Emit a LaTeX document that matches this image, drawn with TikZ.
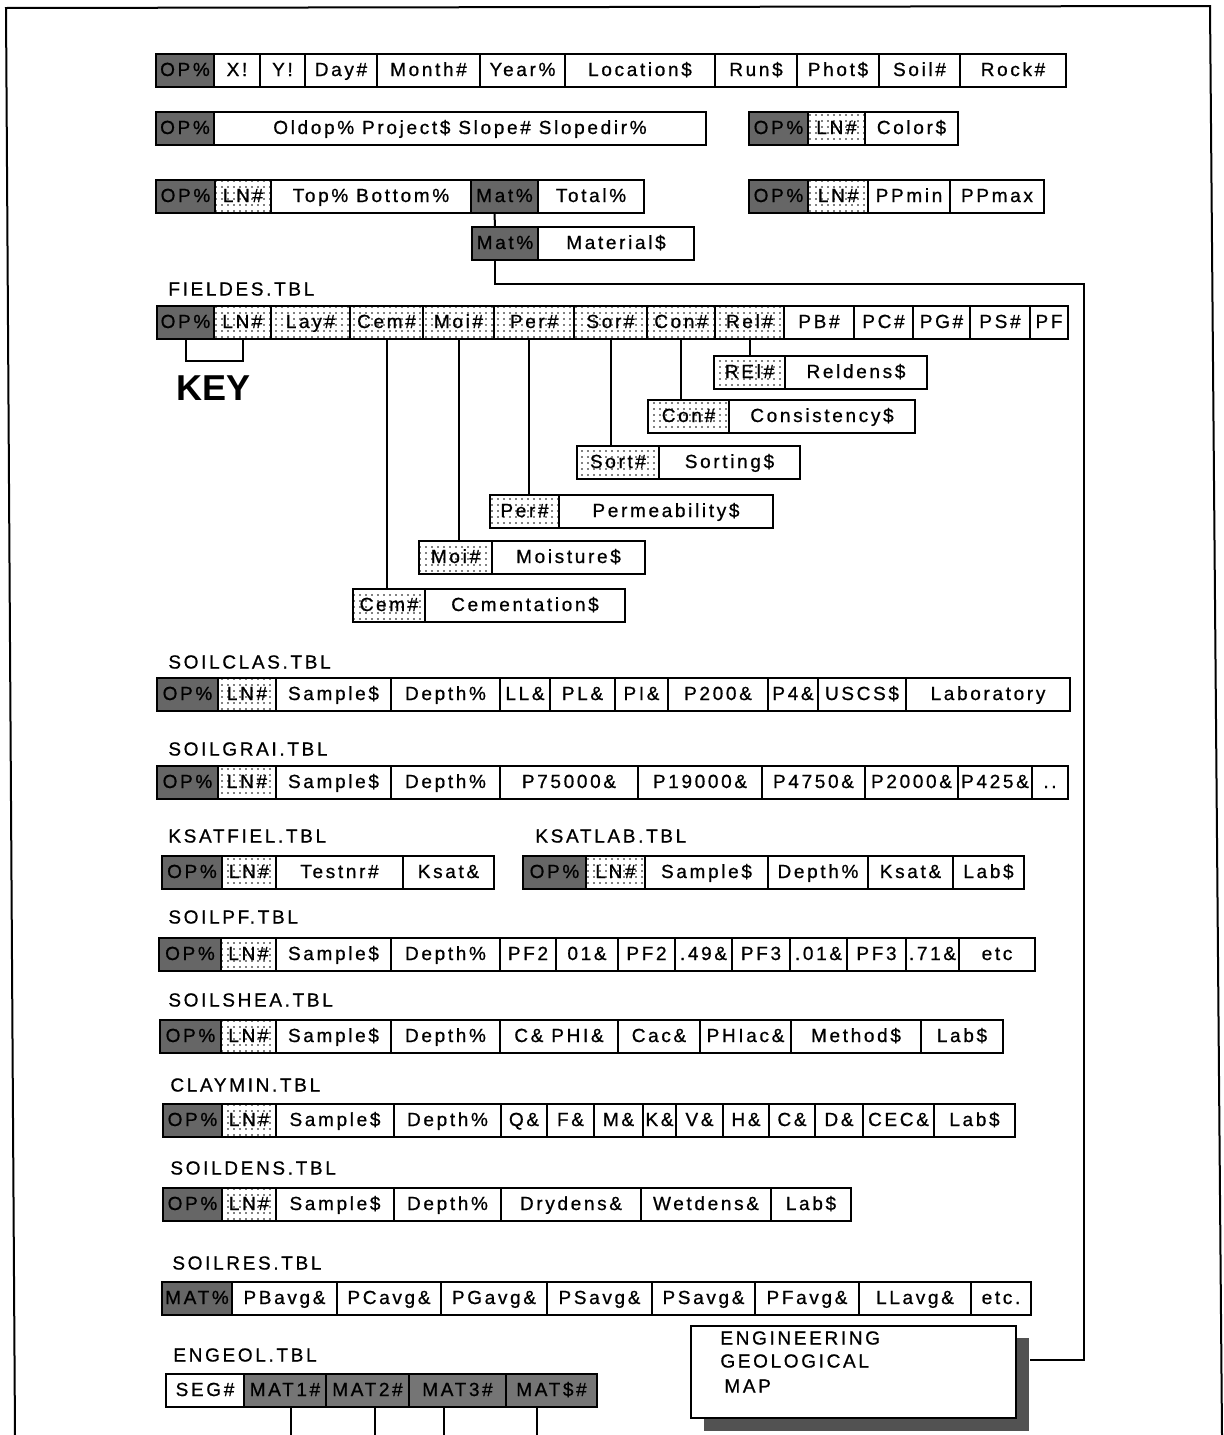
\documentclass[tikz,border=0pt]{standalone}
\usepackage{fontspec}
\setmainfont{Liberation Sans}
\newfontfamily\tf[LetterSpace=14,FakeBold=0.8]{Liberation Sans}
\newfontfamily\kf{Liberation Sans}
\usetikzlibrary{patterns.meta,calc}

\tikzset{
  cell/.style={draw, line width=1pt, inner sep=0pt, outer sep=0pt,
    minimum height=16.5pt, anchor=north west, text height=7pt, text depth=1.5pt,
    font=\tf\fontsize{9.5}{10}\selectfont},
  dk/.style={fill=black!60, text=black},
  dk2/.style={fill=black!54, text=black},
  dt/.style={pattern={Dots[radius=0.45pt,distance=3pt]}, pattern color=black},
  wh/.style={fill=white},
  tlabel/.style={anchor=west, inner sep=0pt, font=\tf\fontsize{9.5}{10}\selectfont},
  wire/.style={line width=1pt},
}

\newcommand\trow[3]{%
  \foreach \xa/\xb/\lb/\st [count=\ci] in {#3}{%
    \pgfmathsetmacro\cw{(\xb-\xa)/2}%
    \node[cell,\st,minimum width=\cw pt] (#1-\ci) at (\xa,#2) {\lb};
  }}

\begin{document}
\begin{tikzpicture}[x=0.5pt,y=-0.5pt]
\useasboundingbox (0,0) rectangle (1224,1435);

% frame
\coordinate (fbl) at (15,1435);
\coordinate (ftl) at (6,8);
\coordinate (ftr) at (1210,6);
\coordinate (fbr) at (1222,1435);
\draw[wire] (fbl) -- (ftl) -- (ftr) -- (fbr);

% top tables
\trow{ra}{54}{156/214/OP\%/dk, 214/260/X!/wh, 260/305/Y!/wh, 305/377/Day\#/wh, 377/480/Month\#/wh, 480/565/Year\%/wh, 565/715/Location\$/wh, 715/797/Run\$/wh, 797/879/Phot\$/wh, 879/960/Soil\#/wh, 960/1066/Rock\#/wh}
\trow{rb}{112}{156/214/OP\%/dk, 214/706/Oldop\% Project\$ Slope\# Slopedir\%/wh}
\trow{rc}{112}{749/808/OP\%/dk, 808/865/LN\#/dt, 865/958/Color\$/wh}
\trow{rd}{180}{156/215/OP\%/dk, 215/271/LN\#/dt, 271/471/Top\% Bottom\%/wh, 471/538/Mat\%/dk, 538/644/Total\%/wh}
\trow{re}{180}{749/808/OP\%/dk, 808/868/LN\#/dt, 868/950/PPmin/wh, 950/1044/PPmax/wh}
\trow{mt}{227}{472/538/Mat\%/dk, 538/694/Material\$/wh}

% FIELDES
\node[tlabel] (lfd) at (168,289) {FIELDES.TBL};
\trow{fd}{306}{157/214/OP\%/dk, 214/271/LN\#/dt, 271/350/Lay\#/dt, 350/423/Cem\#/dt, 423/494/Moi\#/dt, 494/574/Per\#/dt, 574/647/Sor\#/dt, 647/715/Con\#/dt, 715/784/Rel\#/dt, 784/854/PB\#/wh, 854/913/PC\#/wh, 913/970/PG\#/wh, 970/1030/PS\#/wh, 1030/1068/PF/wh}

\trow{rl}{356}{714/785/REl\#/dt, 785/927/Reldens\$/wh}
\trow{cn}{400}{648/729/Con\#/dt, 729/915/Consistency\$/wh}
\trow{so}{446}{577/659/Sort\#/dt, 659/800/Sorting\$/wh}
\trow{pe}{495}{490/559/Per\#/dt, 559/773/Permeability\$/wh}
\trow{mo}{541}{419/492/Moi\#/dt, 492/645/Moisture\$/wh}
\trow{ce}{589}{353/425/Cem\#/dt, 425/625/Cementation\$/wh}

% KEY
\draw[wire] (fd-1.south) -- ++(0,22) -| (fd-2.south);
\node[inner sep=0pt, font=\kf\bfseries\fontsize{18}{18}\selectfont] (key) at (214,388) {KEY};

% FIELDES connectors
\draw[wire] (fd-4.south) -- (fd-4.south |- ce-1.north);
\draw[wire] (fd-5.south) -- (fd-5.south |- mo-1.north);
\draw[wire] ([xshift=-2.5pt]fd-6.south) -- ([xshift=-2.5pt]fd-6.south |- pe-1.north);
\draw[wire] (fd-7.south) -- (fd-7.south |- so-1.north);
\draw[wire] (fd-8.south) -- (fd-8.south |- cn-1.north);
\draw[wire] (fd-9.south) -- (fd-9.south |- rl-1.north);

% Mat connectors
\coordinate (turn) at (1084,284);
\draw[wire] ([xshift=-5pt]rd-4.south) -- ([xshift=-5pt]mt-1.north);

% lower tables
\node[tlabel] (lsc) at (168,662) {SOILCLAS.TBL};
\trow{sc}{678}{157/218/OP\%/dk, 218/276/LN\#/dt, 276/391/Sample\$/wh, 391/500/Depth\%/wh, 500/550/LL\&/wh, 550/615/PL\&/wh, 615/668/PI\&/wh, 668/768/P200\&/wh, 768/818/P4\&/wh, 818/906/USCS\$/wh, 906/1070/Laboratory/wh}

\node[tlabel] (lsg) at (168,749) {SOILGRAI.TBL};
\trow{sg}{766}{157/218/OP\%/dk, 218/276/LN\#/dt, 276/391/Sample\$/wh, 391/500/Depth\%/wh, 500/638/P75000\&/wh, 638/762/P19000\&/wh, 762/865/P4750\&/wh, 865/958/P2000\&/wh, 958/1032/P425\&/wh, 1032/1068/../wh}

\node[tlabel] (lkf) at (168,836) {KSATFIEL.TBL};
\node[tlabel] (lkl) at (535,836) {KSATLAB.TBL};
\trow{kf}{856}{162/222/OP\%/dk, 222/276/LN\#/dt, 276/403/Testnr\#/wh, 403/494/Ksat\&/wh}
\trow{kl}{856}{523/586/OP\%/dk, 586/645/LN\#/dt, 645/768/Sample\$/wh, 768/868/Depth\%/wh, 868/953/Ksat\&/wh, 953/1024/Lab\$/wh}

\node[tlabel] (lpf) at (168,917) {SOILPF.TBL};
\trow{pf}{938}{159/221/OP\%/dk, 221/276/LN\#/dt, 276/391/Sample\$/wh, 391/500/Depth\%/wh, 500/556/PF2/wh, 556/618/01\&/wh, 618/675/PF2/wh, 675/732/.49\&/wh, 732/790/PF3/wh, 790/847/.01\&/wh, 847/906/PF3/wh, 906/959/.71\&/wh, 959/1035/etc/wh}

\node[tlabel] (lsh) at (168,1000) {SOILSHEA.TBL};
\trow{sh}{1020}{160/221/OP\%/dk, 221/276/LN\#/dt, 276/391/Sample\$/wh, 391/500/Depth\%/wh, 500/618/C\& PHI\&/wh, 618/700/Cac\&/wh, 700/791/PHIac\&/wh, 791/921/Method\$/wh, 921/1003/Lab\$/wh}

\node[tlabel] (lcm) at (170,1085) {CLAYMIN.TBL};
\trow{cm}{1104}{163/222/OP\%/dk, 222/276/LN\#/dt, 276/394/Sample\$/wh, 394/501/Depth\%/wh, 501/547/Q\&/wh, 547/594/F\&/wh, 594/643/M\&/wh, 643/676/K\&/wh, 676/723/V\&/wh, 723/769/H\&/wh, 769/815/C\&/wh, 815/863/D\&/wh, 863/934/CEC\&/wh, 934/1015/Lab\$/wh}

\node[tlabel] (lsd) at (170,1168) {SOILDENS.TBL};
\trow{sd}{1188}{163/222/OP\%/dk, 222/276/LN\#/dt, 276/394/Sample\$/wh, 394/501/Depth\%/wh, 501/641/Drydens\&/wh, 641/771/Wetdens\&/wh, 771/851/Lab\$/wh}

\node[tlabel] (lsr) at (172,1263) {SOILRES.TBL};
\trow{sr}{1282}{162/232/MAT\%/dk, 232/337/PBavg\&/wh, 337/441/PCavg\&/wh, 441/547/PGavg\&/wh, 547/652/PSavg\&/wh, 652/755/PSavg\&/wh, 755/859/PFavg\&/wh, 859/971/LLavg\&/wh, 971/1031/etc./wh}

\node[tlabel] (leg) at (173,1355) {ENGEOL.TBL};
\trow{eg}{1374}{166/244/SEG\#/wh, 244/326/MAT1\#/dk2, 326/409/MAT2\#/dk2, 409/506/MAT3\#/dk2, 506/597/MAT\$\#/dk2}

% engineering geological map box
\node[fill=black!68, inner sep=0pt, minimum width=162.5pt, minimum height=46.5pt, anchor=north west] (engsh) at (704,1338) {};
\node[draw, wire, fill=white, inner sep=0pt, minimum width=162.5pt, minimum height=46pt, anchor=north west] (eng) at (690,1325) {};
\node[tlabel] (eng1) at (720,1338) {ENGINEERING};
\node[tlabel] (eng2) at (720,1361) {GEOLOGICAL};
\node[tlabel] (eng3) at (724,1386) {MAP};

% long connector Material -> map
\draw[wire] ([xshift=-5pt]mt-1.south) |- (turn) |- ([yshift=12.5pt]engsh.east);

% ENGEOL connectors to bottom
\coordinate (bot) at (0,1435);
\draw[wire] ([xshift=3pt]eg-2.south) -- ([xshift=3pt]eg-2.south |- bot);
\draw[wire] ([xshift=3.5pt]eg-3.south) -- ([xshift=3.5pt]eg-3.south |- bot);
\draw[wire] ([xshift=-7pt]eg-4.south) -- ([xshift=-7pt]eg-4.south |- bot);
\draw[wire] ([xshift=-7.5pt]eg-5.south) -- ([xshift=-7.5pt]eg-5.south |- bot);
\end{tikzpicture}
\end{document}
